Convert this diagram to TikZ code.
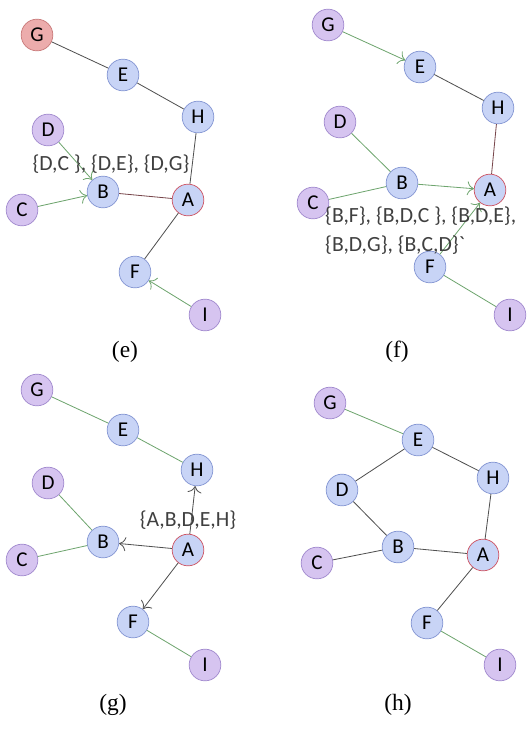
\documentclass[tikz,border=0pt]{standalone}
\usepackage{fontspec}
\setmainfont{Liberation Serif}
\setsansfont{Carlito}
\usepackage{xcolor}
\usetikzlibrary{arrows.meta,positioning}
\definecolor{nodeblue}{RGB}{200,212,246}
\definecolor{edgeblue}{RGB}{130,148,210}
\definecolor{nodepurple}{RGB}{214,196,240}
\definecolor{edgepurple}{RGB}{160,136,205}
\definecolor{nodered}{RGB}{236,172,172}
\definecolor{edgered}{RGB}{200,120,120}
\definecolor{rootred}{RGB}{205,80,95}
\definecolor{linkgray}{RGB}{80,80,80}
\definecolor{linkgreen}{RGB}{110,165,110}
\definecolor{linkred}{RGB}{120,70,75}

\begin{document}
\begin{tikzpicture}[
    x=0.03cm, y=-0.03cm,
    vertex/.style={circle, minimum size=0.95cm, inner sep=0pt, line width=0.6pt, font=\sffamily\fontsize{18}{18}\selectfont},
    bluev/.style={vertex, fill=nodeblue, draw=edgeblue},
    purplev/.style={vertex, fill=nodepurple, draw=edgepurple},
    redv/.style={vertex, fill=nodered, draw=edgered},
    rootv/.style={vertex, fill=nodeblue, draw=rootred},
    link/.style={draw=linkgray, line width=0.7pt},
    redlink/.style={draw=linkred, line width=0.7pt},
    greenlink/.style={draw=linkgreen, line width=0.7pt},
    greenarrow/.style={greenlink, -{To[length=2mm]}},
    arrow/.style={link, -{To[length=2mm]}},
    sets/.style={font=\sffamily\fontsize{18.5}{24}\selectfont, text=black!75, inner sep=0pt},
    caption/.style={font=\fontsize{20}{20}\selectfont}
]
    \useasboundingbox (0,0) rectangle (530,729);

    % (e)
    \node[redv] (eG) at (37,35) {G};
    \node[bluev] (eE) at (123,75) {E};
    \node[bluev] (eH) at (198,117) {H};
    \node[purplev] (eD) at (48,130) {D};
    \node[bluev] (eB) at (103,192) {B};
    \node[rootv] (eA) at (188,200) {A};
    \node[purplev] (eC) at (22,210) {C};
    \node[bluev] (eF) at (135,272) {F};
    \node[purplev] (eI) at (205,315) {I};
    \draw[link] (eG) -- (eE);
    \draw[link] (eE) -- (eH);
    \draw[link] (eH) -- (eA);
    \draw[redlink] (eB) -- (eA);
    \draw[link] (eA) -- (eF);
    \draw[greenarrow] (eD) -- (eB);
    \draw[greenarrow] (eC) -- (eB);
    \draw[greenarrow] (eI) -- (eF);
    \node[sets] (eset) at (111,164) {\{D,C \}, \{D,E\}, \{D,G\}};
    \node[caption] (ecap) at (125,352) {(e)};

    % (f)
    \node[purplev] (fG) at (328,25) {G};
    \node[bluev] (fE) at (420,67) {E};
    \node[bluev] (fH) at (498,108) {H};
    \node[purplev] (fD) at (340,122) {D};
    \node[bluev] (fB) at (402,183) {B};
    \node[rootv] (fA) at (490,190) {A};
    \node[purplev] (fC) at (313,203) {C};
    \node[bluev] (fF) at (430,267) {F};
    \node[purplev] (fI) at (510,315) {I};
    \draw[greenarrow] (fG) -- (fE);
    \draw[link] (fE) -- (fH);
    \draw[redlink] (fH) -- (fA);
    \draw[greenlink] (fD) -- (fB);
    \draw[greenlink] (fC) -- (fB);
    \draw[greenarrow] (fB) -- (fA);
    \draw[greenarrow] (fF) -- (fA);
    \draw[greenlink] (fF) -- (fI);
    \node[sets, align=left, anchor=north west] (fset) at (325,207) {\{B,F\}, \{B,D,C \}, \{B,D,E\},\\\{B,D,G\}, \{B,C,D\}\textasciigrave};
    \node[caption] (fcap) at (397,352) {(f)};

    % (g)
    \node[purplev] (gG) at (37,390) {G};
    \node[bluev] (gE) at (123,430) {E};
    \node[bluev] (gH) at (197,470) {H};
    \node[purplev] (gD) at (48,483) {D};
    \node[bluev] (gB) at (103,542) {B};
    \node[rootv] (gA) at (188,550) {A};
    \node[purplev] (gC) at (22,560) {C};
    \node[bluev] (gF) at (133,622) {F};
    \node[purplev] (gI) at (205,665) {I};
    \draw[greenlink] (gG) -- (gE);
    \draw[greenlink] (gE) -- (gH);
    \draw[greenlink] (gD) -- (gB);
    \draw[greenlink] (gC) -- (gB);
    \draw[greenlink] (gF) -- (gI);
    \draw[arrow] (gA) -- (gH);
    \draw[arrow] (gA) -- (gB);
    \draw[arrow] (gA) -- (gF);
    \node[sets] (gset) at (188,520) {\{A,B,D,E,H\}};
    \node[caption] (gcap) at (113,705) {(g)};

    % (h)
    \node[purplev] (hG) at (330,403) {G};
    \node[bluev] (hE) at (418,440) {E};
    \node[bluev] (hH) at (493,478) {H};
    \node[bluev] (hD) at (342,490) {D};
    \node[bluev] (hB) at (398,547) {B};
    \node[rootv] (hA) at (483,555) {A};
    \node[purplev] (hC) at (317,563) {C};
    \node[bluev] (hF) at (427,623) {F};
    \node[purplev] (hI) at (500,665) {I};
    \draw[greenlink] (hG) -- (hE);
    \draw[link] (hE) -- (hH);
    \draw[link] (hE) -- (hD);
    \draw[link] (hD) -- (hB);
    \draw[link] (hC) -- (hB);
    \draw[link] (hB) -- (hA);
    \draw[link] (hH) -- (hA);
    \draw[link] (hA) -- (hF);
    \draw[greenlink] (hF) -- (hI);
    \node[caption] (hcap) at (398,705) {(h)};
\end{tikzpicture}
\end{document}
